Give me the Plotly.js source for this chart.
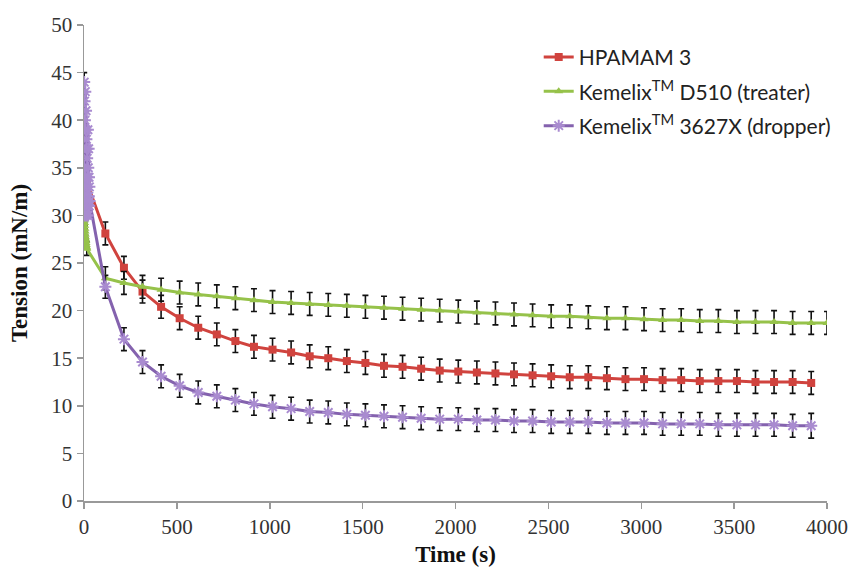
<!DOCTYPE html>
<html>
<head>
<meta charset="utf-8">
<script src="https://cdn.plot.ly/plotly-3.0.1.min.js"></script>
<style>html,body{margin:0;padding:0;background:#fff;}#chart{width:855px;height:569px;}</style>
</head>
<body>
<div id="chart"></div>
<script>
// ---- data ----
const seriesNames = ["HPAMAM 3", "Kemelix<sup>TM</sup> D510 (treater)", "Kemelix<sup>TM</sup> 3627X (dropper)"];

const redT = [15,115,215,315,415,515,615,715,815,915,1015,1115,1215,1315,1415,1515,1615,1715,1815,1915,2015,2115,2215,2315,2415,2515,2615,2715,2815,2915,3015,3115,3215,3315,3415,3515,3615,3715,3815,3915];
const redV = [33.5,28.1,24.5,22.0,20.4,19.2,18.2,17.5,16.8,16.2,15.9,15.6,15.2,15.0,14.7,14.5,14.2,14.1,13.9,13.7,13.6,13.5,13.4,13.3,13.2,13.1,13.0,13.0,12.9,12.8,12.8,12.7,12.7,12.6,12.6,12.6,12.5,12.5,12.5,12.4];
const redE = [1.2,1.2,1.2,1.2,1.2,1.2,1.2,1.2,1.2,1.2,1.2,1.2,1.2,1.2,1.2,1.2,1.2,1.2,1.2,1.2,1.2,1.2,1.2,1.2,1.2,1.2,1.2,1.2,1.2,1.2,1.2,1.2,1.2,1.2,1.2,1.2,1.2,1.2,1.2,1.2];

const greenT = [0,1,2,3,4,5,6,7,8,9,10,11,12,13,14,15,115,215,315,415,515,615,715,815,915,1015,1115,1215,1315,1415,1515,1615,1715,1815,1915,2015,2115,2215,2315,2415,2515,2615,2715,2815,2915,3015,3115,3215,3315,3415,3515,3615,3715,3815,3915,4000];
const greenV = [30.0,29.8,29.5,29.2,28.9,28.6,28.3,28.0,27.7,27.5,27.3,27.1,26.9,26.7,26.6,26.5,23.4,22.9,22.5,22.2,21.9,21.7,21.5,21.3,21.1,20.9,20.8,20.7,20.6,20.5,20.4,20.3,20.2,20.1,20.0,19.9,19.8,19.7,19.6,19.5,19.4,19.4,19.3,19.2,19.2,19.1,19.0,19.0,18.9,18.9,18.8,18.8,18.8,18.7,18.7,18.7];
const greenE = [0,0,0,0,0,0,0,0,0,0,0,0,0,0,0,0.7,1.2,1.2,1.2,1.2,1.2,1.2,1.2,1.2,1.2,1.2,1.2,1.2,1.2,1.2,1.2,1.2,1.2,1.2,1.2,1.2,1.2,1.2,1.2,1.2,1.2,1.2,1.2,1.2,1.2,1.2,1.2,1.2,1.2,1.2,1.2,1.2,1.2,1.2,1.2,1.2];

const purpleT = [0,1,2,3,4,5,6,7,8,9,10,11,12,13,14,15,16,17,18,19,20,21,22,23,24,25,26,27,28,29,30,115,215,315,415,515,615,715,815,915,1015,1115,1215,1315,1415,1515,1615,1715,1815,1915,2015,2115,2215,2315,2415,2515,2615,2715,2815,2915,3015,3115,3215,3315,3415,3515,3615,3715,3815,3915];
const purpleV = [35,44,31,42,33,40,30,43,34,39,31,41,32,38,30,37,33,36,31,34,32,39,30,35,31,37,32,34,31,33,31.5,22.5,17.0,14.6,13.1,12.1,11.4,11.0,10.6,10.2,9.9,9.7,9.4,9.3,9.1,9.0,8.9,8.8,8.7,8.6,8.6,8.5,8.5,8.4,8.4,8.3,8.3,8.3,8.2,8.2,8.2,8.1,8.1,8.1,8.0,8.0,8.0,8.0,7.9,7.9];
const purpleE = [0,1,0,0,0,0,0,0,0,0,0,0,0,0,0,0,0,0,0,0,0,0,0,0,0,0,0,0,0,0,0,1.2,1.2,1.2,1.2,1.2,1.2,1.2,1.2,1.2,1.2,1.2,1.2,1.2,1.2,1.2,1.2,1.2,1.2,1.2,1.2,1.2,1.2,1.2,1.2,1.2,1.2,1.2,1.2,1.2,1.2,1.2,1.2,1.2,1.2,1.2,1.2,1.2,1.2,1.3];

const xTickStep = 500;
const yTickStep = 5;

// ---- styles ----
const errStyle = arr => ({type:'data', array:arr, visible:true, color:'#111', thickness:1.6, width:3});

const traces = [
  {x:redT, y:redV, name:seriesNames[0], legendgroup:'a', mode:'lines+markers', type:'scatter',
   line:{color:'#D0433E', width:3}, marker:{symbol:'square', size:8, color:'#D0433E'},
   error_y:errStyle(redE)},
  {x:greenT, y:greenV, name:seriesNames[1], legendgroup:'b', mode:'lines+markers', type:'scatter',
   line:{color:'#96C24A', width:3}, marker:{symbol:'triangle-up', size:8, color:'#96C24A'},
   error_y:errStyle(greenE)},
  {x:purpleT, y:purpleV, name:seriesNames[2], legendgroup:'c', mode:'lines+markers', type:'scatter',
   line:{color:'#8462AE', width:3}, marker:{symbol:'asterisk-open', size:10, color:'#A98BD0', line:{color:'#A98BD0', width:2}},
   error_y:errStyle(purpleE)}
];

const layout = {
  width:855, height:569,
  margin:{l:84, r:28, t:25, b:68},
  paper_bgcolor:'#fff', plot_bgcolor:'#fff',
  showlegend:true,
  legend:{x:0.612, y:0.975, xanchor:'left', yanchor:'top', bgcolor:'rgba(0,0,0,0)',
          font:{family:'Lato', size:21, color:'#222'}, tracegroupgap:4, itemwidth:30},
  xaxis:{range:[0,4000], tick0:0, dtick:xTickStep, showgrid:false, zeroline:false,
         showline:true, linecolor:'#999', linewidth:1.5, ticks:'outside', tickcolor:'#999', ticklen:6, tickwidth:1.5,
         tickfont:{family:'Liberation Serif', size:21, color:'#333333'},
         title:{text:'<b>Time (s)</b>', font:{family:'Liberation Serif', size:23, color:'#111'}, standoff:8}},
  yaxis:{range:[0,50], tick0:0, dtick:yTickStep, showgrid:false, zeroline:false,
         showline:true, linecolor:'#999', linewidth:1.5, ticks:'outside', tickcolor:'#999', ticklen:6, tickwidth:1.5,
         tickfont:{family:'Liberation Serif', size:21, color:'#333333'},
         title:{text:'<b>Tension (mN/m)</b>', font:{family:'Liberation Serif', size:23, color:'#111'}, standoff:17}}
};

Plotly.newPlot('chart', traces, layout, {staticPlot:true});
</script>
</body>
</html>
